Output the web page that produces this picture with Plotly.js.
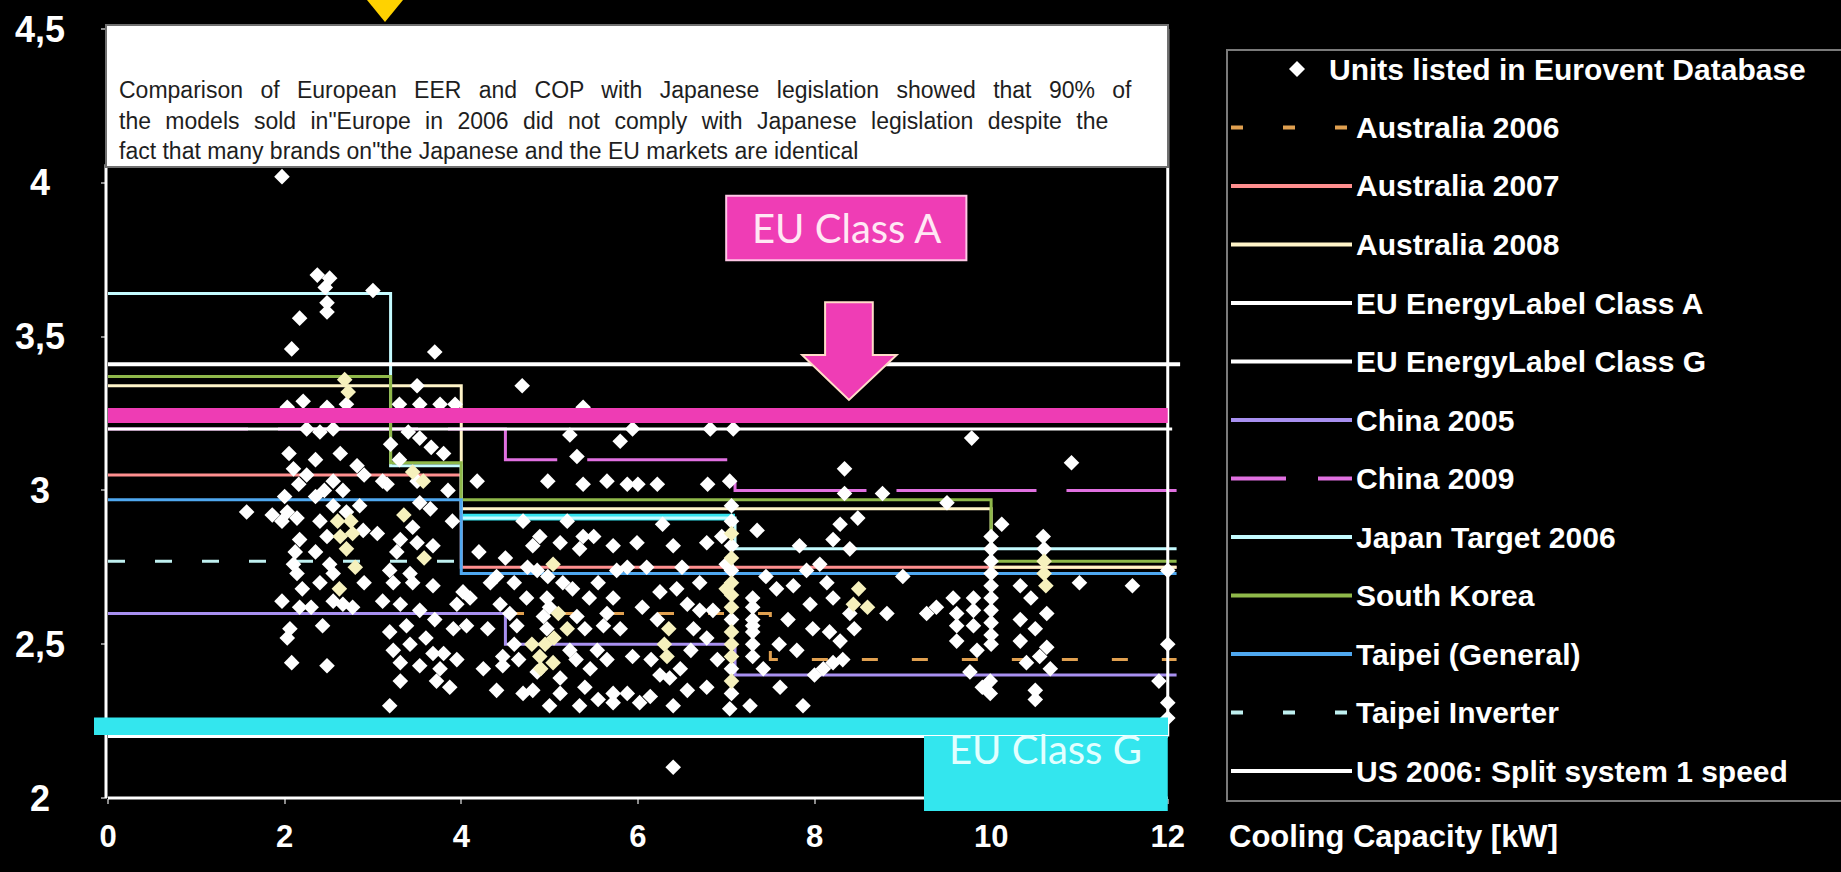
<!DOCTYPE html>
<html><head><meta charset="utf-8">
<script src="https://cdn.plot.ly/plotly-3.0.1.min.js"></script>
<style>html,body{margin:0;padding:0;background:#000;}#chart{width:1841px;height:872px;}</style>
</head><body><div id="chart"></div>
<script>
// ---------------- data ----------------
const xTicks = [0, 2, 4, 6, 8, 10, 12];
const yTickVals = [2, 2.5, 3, 3.5, 4, 4.5];
const yTickText = ['2', '2,5', '3', '3,5', '4', '4,5'];
const xAxisTitle = 'Cooling Capacity [kW]';
const noteLines = [
  'Comparison of European EER and COP with Japanese legislation showed that 90% of',
  'the models sold in"Europe in 2006 did not comply with Japanese legislation despite the',
  'fact that many brands on"the Japanese and the EU markets are identical'
];
const unitsName = 'Units listed in Eurovent Database';
const seriesNames = ['Australia 2006','Australia 2007','Australia 2008','EU EnergyLabel Class A','EU EnergyLabel Class G','China 2005','China 2009','Japan Target 2006','South Korea','Taipei (General)','Taipei Inverter','US 2006: Split system 1 speed'];

// step limits (start of each capacity band -> limit value)
const aus2006X = [0, 7.5, 12.1];            const aus2006Y = [2.60, 2.45, 2.45];
const aus2007X = [0, 4, 12.1];              const aus2007Y = [3.05, 2.75, 2.75];
const aus2008X = [0, 4, 10, 12.1];          const aus2008Y = [3.34, 2.94, 2.75, 2.75];
const euAX = [0, 12.05];                    const euAY = [3.2, 3.2];
const euGX = [0, 12.0];                     const euGY = [2.2, 2.2];
const china2005X = [0, 4.5, 7.1, 12.1];     const china2005Y = [2.6, 2.5, 2.4, 2.4];
const china2009X = [0, 4.5, 7.1, 12.1];     const china2009Y = [3.2, 3.1, 3.0, 3.0];
const japanX = [0, 3.2, 4.0, 7.1, 12.1];    const japanY = [3.64, 3.08, 2.91, 2.81, 2.81];
const koreaX = [0, 3.2, 4.0, 10, 12.1];     const koreaY = [3.37, 3.09, 2.97, 2.77, 2.77];
const taipeiGenX = [0, 4.0, 12.1];          const taipeiGenY = [2.97, 2.73, 2.73];
const taipeiInvX = [0, 4.0];                const taipeiInvY = [2.77, 2.77];
const us2006X = [0, 12.14];                 const us2006Y = [3.41, 3.41];

// Eurovent units (white)
const unitsX = [
1.57,1.86,1.97,2.08,2.17,2.03,2.21,2.25,2.10,2.25,2.16,2.03,2.14,1.97,2.17,2.10,2.14,1.97,2.17,2.06,2.03,2.08,2.00,2.05,2.20,2.12,
2.37,2.51,2.46,2.48,2.48,3.00,2.48,2.70,2.40,2.55,2.63,2.82,2.55,2.35,2.45,2.90,2.66,2.55,2.70,2.48,2.89,2.51,2.55,2.55,2.66,2.77,2.43,2.48,2.85,2.40,2.35,2.40,2.90,2.30,2.35,
3.70,3.50,3.30,3.53,3.76,3.93,3.53,3.40,3.11,3.16,3.50,3.53,3.65,3.45,3.31,3.50,3.68,3.27,3.19,3.42,3.23,3.45,3.68,3.11,3.31,3.53,3.95,4.02,3.19,3.38,3.23,3.42,3.68,3.31,3.53,3.76,3.31,3.87,3.91,3.19,3.72,3.60,3.85,3.90,3.70,3.05,3.80,3.95,3.20,3.30,3.80,3.66,
4.69,4.18,4.10,4.06,4.40,4.33,4.44,4.47,4.47,4.63,4.74,4.89,4.81,4.86,4.97,4.93,4.97,4.86,4.70,4.81,5.00,4.60,4.55,4.30,4.25,4.20,4.50,4.70,4.98,4.65,4.40,4.75,4.60,
5.38,5.23,5.31,5.80,5.94,4.98,5.38,5.65,5.88,6.00,5.12,5.38,5.34,5.72,5.99,5.76,5.88,5.26,5.72,5.31,5.61,5.23,5.54,5.94,5.12,5.46,5.65,5.12,5.72,5.88,5.34,5.72,5.40,5.45,5.15,5.55,5.00,5.30,5.80,5.65,5.40,5.55,5.20,5.50,
6.22,6.79,6.82,6.28,6.40,6.78,6.25,6.44,6.56,6.70,6.85,6.22,6.63,6.78,6.48,6.36,6.14,6.56,6.78,6.02,6.40,6.40,6.10,6.50,6.60,6.90,6.15,6.70,6.95,6.05,6.25,
7.08,7.04,7.06,7.06,7.06,7.06,7.06,7.06,7.06,7.04,7.00,
7.35,7.83,7.91,8.06,7.30,7.57,7.76,7.95,7.30,7.98,7.80,7.42,7.61,7.27,7.87,7.30,7.30,7.30,7.30,7.30,7.70,7.45,7.60,8.00,
8.34,8.34,8.77,8.49,8.29,8.21,8.40,8.14,8.21,8.40,8.82,8.17,8.29,8.21,8.10,8.32,9.00,8.45,
9.50,9.78,9.27,9.38,9.57,9.61,9.61,9.61,9.80,9.80,9.80,9.84,9.76,9.90,9.99,9.99,10.00,10.00,10.00,10.00,10.00,10.00,10.00,10.00,10.00,10.00,10.12,
10.91,10.59,10.60,10.33,11.00,11.60,10.33,10.33,10.63,10.63,10.40,10.55,10.67,10.50,10.50,12.00,12.00,11.90,12.00,12.00,10.50,10.45
];
const unitsY = [
2.93,2.92,4.02,3.46,3.56,3.27,3.29,3.20,3.07,3.05,3.02,2.93,2.91,2.90,2.84,2.76,2.73,2.64,2.62,2.55,2.52,2.44,2.98,3.12,2.68,2.80,
3.70,3.69,3.66,3.61,3.58,3.65,3.27,3.28,3.19,3.20,3.12,3.08,3.03,3.10,3.00,3.05,3.00,2.95,2.93,2.85,2.87,2.76,2.73,2.64,2.63,2.62,2.56,2.43,2.95,2.90,2.80,2.70,2.70,2.62,2.98,
3.45,3.34,3.28,3.28,3.28,3.28,3.17,3.19,3.03,3.02,3.03,2.96,2.94,2.88,2.84,2.83,2.82,2.80,2.74,2.73,2.70,2.70,2.69,2.64,2.63,2.61,2.63,2.67,2.54,2.56,2.48,2.50,2.47,2.44,2.43,2.42,2.38,2.36,2.55,2.30,2.38,2.52,3.00,2.90,2.58,2.86,2.47,2.45,3.15,3.10,3.12,3.14,
3.34,3.03,2.65,2.56,2.72,2.70,2.63,2.46,2.43,2.56,2.65,2.85,2.82,2.74,2.65,2.59,2.55,2.41,2.34,2.35,2.30,2.50,2.60,2.55,2.42,2.80,2.78,2.90,2.72,2.45,2.35,2.75,2.70,
3.27,3.18,3.11,3.16,3.20,3.03,3.02,3.03,3.02,3.02,2.83,2.85,2.81,2.82,2.83,2.74,2.75,2.68,2.65,2.59,2.56,2.48,2.48,2.46,2.39,2.42,2.45,2.34,2.34,2.34,2.30,2.31,2.55,2.65,2.70,2.70,2.62,2.45,2.55,2.60,2.36,2.32,2.90,2.85,
3.02,3.02,3.20,2.89,2.82,2.83,2.67,2.68,2.63,2.61,2.61,2.58,2.55,2.52,2.42,2.39,2.33,2.35,2.36,2.31,2.30,2.10,2.75,2.75,2.48,2.45,2.45,2.70,2.85,2.62,2.40,
3.20,3.03,2.95,2.90,2.82,2.74,2.58,2.42,2.34,2.29,2.76,
2.87,2.82,2.74,2.76,2.65,2.68,2.69,2.63,2.56,2.55,2.48,2.42,2.36,2.30,2.30,2.62,2.58,2.54,2.50,2.46,2.58,2.72,2.50,2.40,
3.07,2.99,2.99,2.91,2.89,2.84,2.81,2.70,2.65,2.60,2.60,2.54,2.51,2.44,2.42,2.45,2.72,2.55,
2.96,3.17,2.60,2.62,2.65,2.60,2.56,2.51,2.65,2.61,2.56,2.48,2.41,2.36,2.38,2.34,2.85,2.81,2.77,2.73,2.69,2.65,2.61,2.57,2.53,2.50,2.89,
3.09,2.85,2.81,2.69,2.70,2.69,2.58,2.51,2.60,2.49,2.44,2.46,2.42,2.35,2.32,2.74,2.50,2.38,2.31,2.26,2.55,2.65
];
// Eurovent units shown in a yellowish tint
const creamX = [2.68,2.72,2.63,2.77,2.70,2.60,2.75,2.80,2.62, 3.45,3.57,3.35,3.58, 4.89,4.80,4.90,4.95, 5.04,5.04,5.10,5.20,5.05, 6.33,6.30,6.35, 7.06,7.06,7.06,7.06,7.06,7.06,7.06,7.06,7.06,7.00, 8.44,8.50,8.60, 10.60,10.60,10.62];
const creamY = [3.36,3.32,2.85,2.86,2.81,2.90,2.90,2.75,2.68, 3.06,3.03,2.92,2.78, 2.46,2.50,2.42,2.50, 2.76,2.44,2.60,2.55,2.52, 2.46,2.50,2.55, 2.86,2.78,2.70,2.66,2.62,2.54,2.50,2.46,2.38,2.68, 2.63,2.68,2.62, 2.77,2.73,2.69];

// ---------------- styles ----------------
const stepX = [aus2006X,aus2007X,aus2008X,euAX,euGX,china2005X,china2009X,japanX,koreaX,taipeiGenX,taipeiInvX,us2006X];
const stepY = [aus2006Y,aus2007Y,aus2008Y,euAY,euGY,china2005Y,china2009Y,japanY,koreaY,taipeiGenY,taipeiInvY,us2006Y];
const styles = [
  {color:'#e0a050', width:3, dash:'16px,34px', ldash:'12px,40px'},
  {color:'#ff8f8f', width:3, dash:'solid', ldash:'solid'},
  {color:'#fff4c8', width:3, dash:'solid', ldash:'solid'},
  {color:'#ffffff', width:3, dash:'solid', ldash:'solid'},
  {color:'#ffffff', width:3, dash:'solid', ldash:'solid'},
  {color:'#a890f0', width:3, dash:'solid', ldash:'solid'},
  {color:'#e070e0', width:3, dash:'140px,30px', ldash:'55px,32px'},
  {color:'#c4fbff', width:3, dash:'solid', ldash:'solid'},
  {color:'#8fb84a', width:3, dash:'solid', ldash:'solid'},
  {color:'#4fa8f0', width:3, dash:'solid', ldash:'solid'},
  {color:'#bff0f0', width:3, dash:'17px,30px', ldash:'12px,40px'},
  {color:'#ffffff', width:4, dash:'solid', ldash:'solid'}
];
// drawing order of the limit lines (China 2009 sits under the EU class A line)
const drawOrder = [0,1,2,6,3,4,5,7,8,9,10,11];
const FONT = 'Liberation Sans, Arial, sans-serif';

// pixel -> paper helpers (plot area: x 108..1181, y 29..798)
function PX(px){return (px-108)/1073;}
function PY(py){return (798-py)/769;}
function pathPx(pts){return pts.map((p,i)=>(i?'L':'M')+PX(p[0]).toFixed(5)+','+PY(p[1]).toFixed(5)).join(' ')+' Z';}

const traces = [];
drawOrder.forEach(i=>{
  traces.push({type:'scatter', mode:'lines', name:seriesNames[i], x:stepX[i], y:stepY[i],
    line:{shape:'hv', color:styles[i].color, width:styles[i].width, dash:styles[i].dash},
    showlegend:false, hoverinfo:'skip'});
});
traces.push({type:'scatter', mode:'markers', name:unitsName, x:unitsX, y:unitsY,
  marker:{symbol:'diamond', size:12, color:'#ffffff'}, showlegend:false});
traces.push({type:'scatter', mode:'markers', name:unitsName, x:creamX, y:creamY,
  marker:{symbol:'diamond', size:12, color:'#f6f1bd'}, showlegend:false});

const shapes = [
  // thick cyan highlight of Japan 4.0-7.1 band
  {type:'rect', layer:'below', xref:'x', yref:'y', x0:4.02, x1:7.1, y0:2.902, y1:2.924, fillcolor:'#33e2ee', line:{width:0}},
  // frame
  {type:'line', xref:'paper', yref:'y', x0:PX(106), x1:PX(106), y0:2, y1:4.06, line:{color:'#ffffff', width:3}},
  {type:'line', xref:'x', yref:'y', x0:12.0, x1:12.0, y0:2.2, y1:4.5, line:{color:'#ffffff', width:3}},
  {type:'line', xref:'x', yref:'paper', x0:0, x1:12.0, y0:0, y1:0, line:{color:'#ffffff', width:3}},
  // EU class A highlight band
  {type:'rect', xref:'x', yref:'y', x0:0, x1:12.0, y0:3.219, y1:3.268, fillcolor:'#ee3cb4', line:{width:0}},
  // EU class G highlight band and label box
  {type:'rect', xref:'paper', yref:'y', x0:PX(94), x1:PX(1168), y0:2.205, y1:2.262, fillcolor:'#33e6ee', line:{width:0}},
  {type:'rect', xref:'x', yref:'paper', x0:9.24, x1:12.0, y0:PY(811), y1:PY(736), fillcolor:'#33e6ee', line:{width:0}},
  // EU class A label box and arrow
  {type:'rect', xref:'x', yref:'y', x0:7.0, x1:9.72, y0:3.748, y1:3.958, fillcolor:'#ef3db5', line:{color:'#ffc8e6', width:2}},
  {type:'path', xref:'x', yref:'y', path:'M8.12,3.612 L8.66,3.612 L8.66,3.44 L8.93,3.44 L8.39,3.294 L7.86,3.44 L8.12,3.44 Z', fillcolor:'#ef3db5', line:{color:'#ffdcc8', width:2}},
  // note box
  {type:'rect', xref:'paper', yref:'paper', x0:PX(106), x1:PX(1168), y0:PY(167), y1:PY(25), fillcolor:'#ffffff', line:{color:'#707070', width:2}},
  // yellow marker triangle
  {type:'path', xref:'paper', yref:'paper', path:pathPx([[367,0],[403,0],[385,22]]), fillcolor:'#ffd200', line:{width:0}},
  // legend frame
  {type:'rect', xref:'paper', yref:'paper', x0:PX(1227), x1:PX(1860), y0:PY(801), y1:PY(50), fillcolor:'rgba(0,0,0,0)', line:{color:'#7a7a7a', width:2}}
];

const annotations = [];
// note text
noteLines.forEach((t,i)=>{
  const ws = i===0 ? 11 : (i===1 ? 8 : 0);
  annotations.push({xref:'paper', yref:'paper', x:PX(117), y:PY(90+30.5*i), xanchor:'left', yanchor:'middle', showarrow:false,
    text: ws ? '<span style="word-spacing:'+ws+'px">'+t+'</span>' : t,
    font:{family:FONT, size:23, color:'#1e1e1e'}});
});
// y tick labels (centered)
yTickVals.forEach((v,i)=>{
  annotations.push({xref:'paper', yref:'y', x:PX(40), y:v, xanchor:'center', yanchor:'middle', showarrow:false,
    text:yTickText[i], font:{family:FONT, size:36, color:'#ffffff', weight:'bold'}});
});
annotations.push({xref:'paper', yref:'paper', x:PX(1227), y:PY(836), xanchor:'left', yanchor:'middle', showarrow:false,
  text:xAxisTitle, font:{family:FONT, size:31, color:'#ffffff', weight:'bold'}});
annotations.push({xref:'x', yref:'y', x:8.36, y:3.853, showarrow:false, text:'EU Class A',
  font:{family:'Lato, Open Sans, sans-serif', size:40, color:'#ffe8f4'}});
annotations.push({xref:'x', yref:'paper', x:10.62, y:PY(775), showarrow:false, text:'EU Class G',
  font:{family:'Lato, Open Sans, sans-serif', size:40, color:'#e2ffff'}});

// legend
const rowY = i => 69 + 58.5*i;
shapes.push({type:'path', xref:'paper', yref:'paper', path:pathPx([[1297,61],[1305,69],[1297,77],[1289,69]]), fillcolor:'#ffffff', line:{width:0}});
annotations.push({xref:'paper', yref:'paper', x:PX(1327), y:PY(rowY(0)), xanchor:'left', yanchor:'middle', showarrow:false,
  text:unitsName, font:{family:FONT, size:30, color:'#ffffff', weight:'bold'}});
seriesNames.forEach((n,i)=>{
  const y = PY(rowY(i+1));
  shapes.push({type:'line', xref:'paper', yref:'paper', x0:PX(1231), x1:PX(1352), y0:y, y1:y,
    line:{color:styles[i].color, width:4, dash:styles[i].ldash}});
  annotations.push({xref:'paper', yref:'paper', x:PX(1354), y:y, xanchor:'left', yanchor:'middle', showarrow:false,
    text:n, font:{family:FONT, size:30, color:'#ffffff', weight:'bold'}});
});

const layout = {
  width:1841, height:872,
  margin:{l:108, r:660, t:29, b:74},
  paper_bgcolor:'#000000', plot_bgcolor:'#000000',
  showlegend:false,
  xaxis:{range:[0,12.15], tickvals:xTicks, ticktext:xTicks.map(String), ticks:'outside', ticklen:5, tickwidth:2, tickcolor:'#8a8a8a',
    showgrid:false, zeroline:false, showline:false, ticklabelstandoff:6,
    tickfont:{family:FONT, size:31, color:'#ffffff', weight:'bold'}},
  yaxis:{range:[2,4.5], tickvals:yTickVals, ticks:'outside', ticklen:6, tickwidth:2, tickcolor:'#8a8a8a',
    showticklabels:false, showgrid:false, zeroline:false, showline:false},
  shapes:shapes, annotations:annotations
};
Plotly.newPlot('chart', traces, layout, {displayModeBar:false, staticPlot:true});
</script></body></html>
